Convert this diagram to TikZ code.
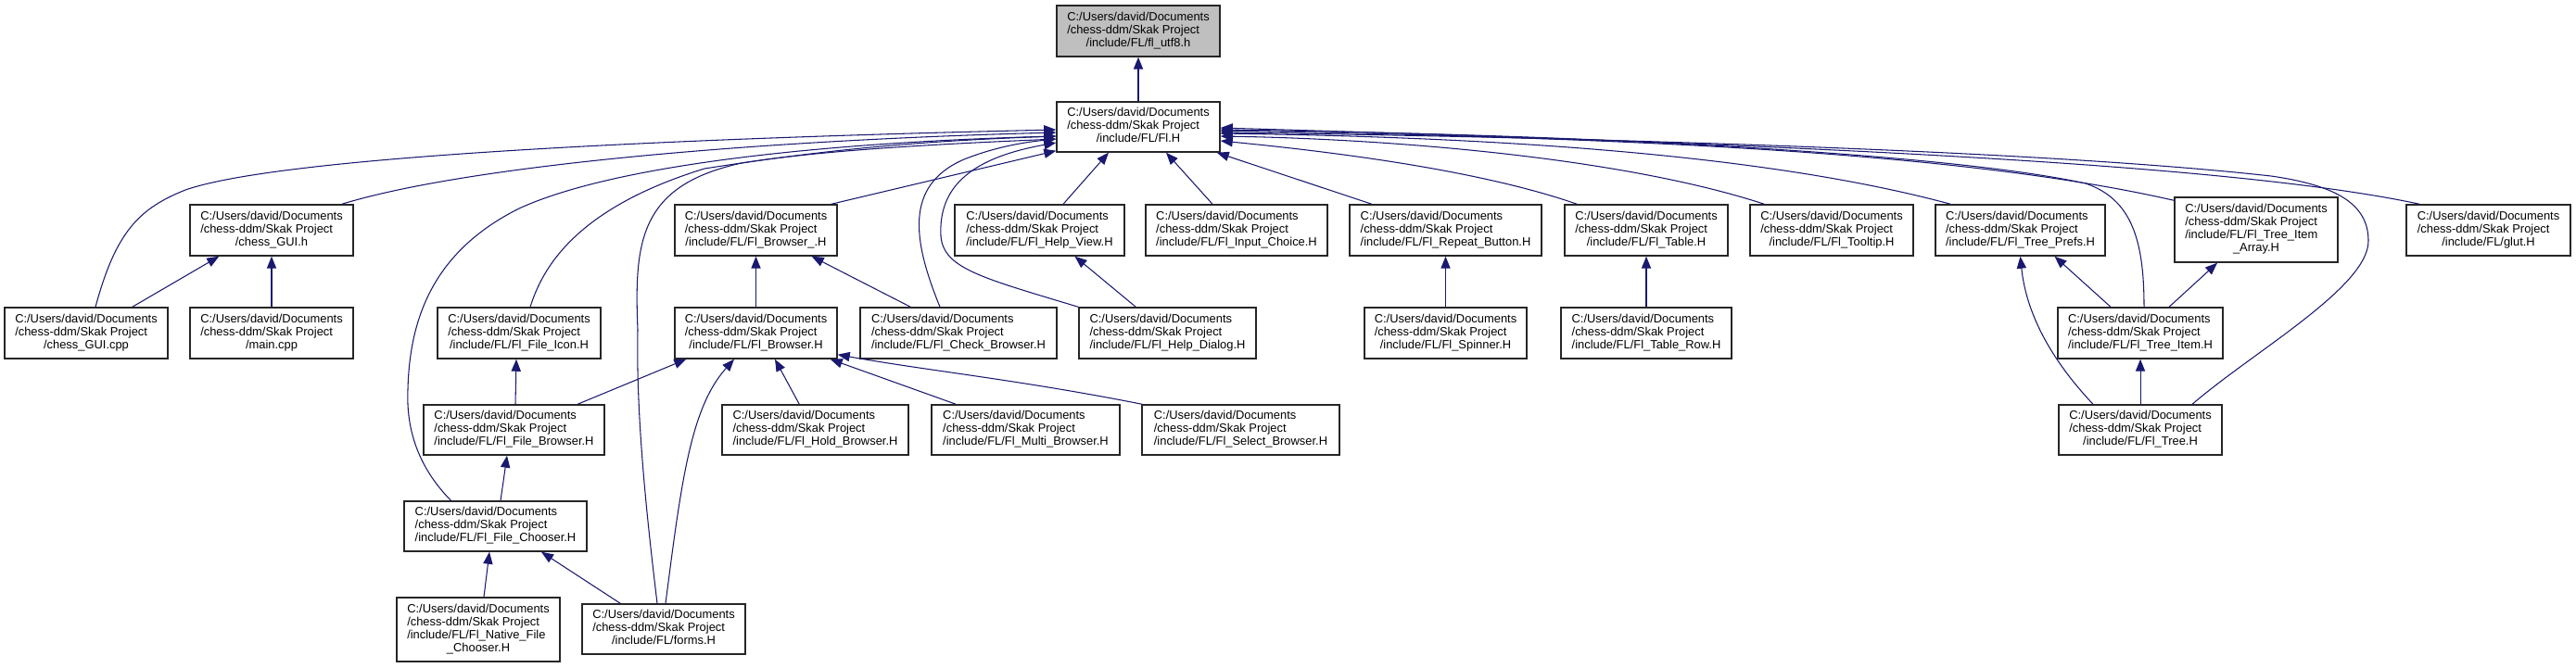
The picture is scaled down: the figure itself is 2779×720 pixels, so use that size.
\documentclass[tikz,border=0pt]{standalone}
\usepackage{fontspec}
\setmainfont{Liberation Sans}
\usetikzlibrary{arrows.meta,calc}
\definecolor{edgeblue}{HTML}{191970}
\definecolor{rootgray}{HTML}{BFBFBF}
\definecolor{boxline}{HTML}{262626}
\newcommand\dlthree[3]{\begin{tabular}{@{}l@{}}#1\\#2\\\multicolumn{1}{@{}c@{}}{#3}\end{tabular}}
\newcommand\dlfour[4]{\begin{tabular}{@{}l@{}}#1\\#2\\#3\\\multicolumn{1}{@{}c@{}}{#4}\end{tabular}}
\newcommand\dpa{C:/Users/david/Documents}
\newcommand\dpb{/chess-ddm/Skak Project}
\newcommand\dnode[7][]{\node[dbox,#1,minimum width={(#4-#3)*0.01cm},minimum height={(#6-#5)*0.01cm}] (#2) at ({(#3+#4)/2},{(#5+#6)/2}) {#7};}
\tikzset{
  dbox/.style={draw=boxline, line width=0.4pt, fill=white, inner sep=0pt, font=\fontsize{3.67pt}{3.98pt}\selectfont},
  rootbox/.style={fill=rootgray},
  edge/.style={draw=edgeblue, line width=0.3pt, -{Triangle[length=3.7pt,width=2.9pt]}}
}
\begin{document}
\begin{tikzpicture}[x=0.01cm,y=-0.01cm]
\fill[white] (0,0) rectangle (2779,720);
\useasboundingbox (0,0) rectangle (2779,720);
% row 0, 1
\dnode[rootbox]{utf8}{1140}{1316}{6}{61}{\dlthree{\dpa}{\dpb}{/include/FL/fl\_utf8.h}}
\dnode{flh}{1140}{1316}{110}{164}{\dlthree{\dpa}{\dpb}{/include/FL/Fl.H}}
% row 2
\dnode{guih}{205}{381}{221}{276}{\dlthree{\dpa}{\dpb}{/chess\_GUI.h}}
\dnode{browseru}{728}{903}{221}{276}{\dlthree{\dpa}{\dpb}{/include/FL/Fl\_Browser\_.H}}
\dnode{helpview}{1030}{1213}{221}{276}{\dlthree{\dpa}{\dpb}{/include/FL/Fl\_Help\_View.H}}
\dnode{inputchoice}{1236}{1432}{221}{276}{\dlthree{\dpa}{\dpb}{/include/FL/Fl\_Input\_Choice.H}}
\dnode{repeatb}{1456}{1663}{221}{276}{\dlthree{\dpa}{\dpb}{/include/FL/Fl\_Repeat\_Button.H}}
\dnode{table}{1688}{1864}{221}{276}{\dlthree{\dpa}{\dpb}{/include/FL/Fl\_Table.H}}
\dnode{tooltip}{1888}{2064}{221}{276}{\dlthree{\dpa}{\dpb}{/include/FL/Fl\_Tooltip.H}}
\dnode{treeprefs}{2088}{2271}{221}{276}{\dlthree{\dpa}{\dpb}{/include/FL/Fl\_Tree\_Prefs.H}}
\dnode{treeitemarray}{2346}{2522}{213}{283}{\dlfour{\dpa}{\dpb}{/include/FL/Fl\_Tree\_Item}{\_Array.H}}
\dnode{glut}{2596}{2773}{221}{276}{\dlthree{\dpa}{\dpb}{/include/FL/glut.H}}
% row 3
\dnode{guicpp}{5}{181}{332}{387}{\dlthree{\dpa}{\dpb}{/chess\_GUI.cpp}}
\dnode{maincpp}{205}{381}{332}{387}{\dlthree{\dpa}{\dpb}{/main.cpp}}
\dnode{fileicon}{472}{648}{332}{387}{\dlthree{\dpa}{\dpb}{/include/FL/Fl\_File\_Icon.H}}
\dnode{browser}{728}{903}{332}{387}{\dlthree{\dpa}{\dpb}{/include/FL/Fl\_Browser.H}}
\dnode{checkbrowser}{928}{1140}{332}{387}{\dlthree{\dpa}{\dpb}{/include/FL/Fl\_Check\_Browser.H}}
\dnode{helpdialog}{1164}{1355}{332}{387}{\dlthree{\dpa}{\dpb}{/include/FL/Fl\_Help\_Dialog.H}}
\dnode{spinner}{1472}{1647}{332}{387}{\dlthree{\dpa}{\dpb}{/include/FL/Fl\_Spinner.H}}
\dnode{tablerow}{1684}{1868}{332}{387}{\dlthree{\dpa}{\dpb}{/include/FL/Fl\_Table\_Row.H}}
\dnode{treeitem}{2220}{2398}{332}{387}{\dlthree{\dpa}{\dpb}{/include/FL/Fl\_Tree\_Item.H}}
% row 4
\dnode{filebrowser}{457}{652}{437}{491}{\dlthree{\dpa}{\dpb}{/include/FL/Fl\_File\_Browser.H}}
\dnode{hold}{779}{980}{437}{491}{\dlthree{\dpa}{\dpb}{/include/FL/Fl\_Hold\_Browser.H}}
\dnode{multi}{1005}{1208}{437}{491}{\dlthree{\dpa}{\dpb}{/include/FL/Fl\_Multi\_Browser.H}}
\dnode{select}{1232}{1445}{437}{491}{\dlthree{\dpa}{\dpb}{/include/FL/Fl\_Select\_Browser.H}}
\dnode{tree}{2221}{2397}{437}{491}{\dlthree{\dpa}{\dpb}{/include/FL/Fl\_Tree.H}}
% row 5, 6
\dnode{filechooser}{436}{633}{541}{595}{\dlthree{\dpa}{\dpb}{/include/FL/Fl\_File\_Chooser.H}}
\dnode{native}{428}{604}{645}{714}{\dlfour{\dpa}{\dpb}{/include/FL/Fl\_Native\_File}{\_Chooser.H}}
\dnode{forms}{628}{804}{652}{706}{\dlthree{\dpa}{\dpb}{/include/FL/forms.H}}
% edges into Fl.H and fl_utf8.h
\draw[edge] (flh.north) -- (utf8.south);
\draw[edge] ($(guicpp.north)+(10,0)$) .. controls (125,250) and (150,225) .. (200,205) .. controls (300,170) and (700,150) .. ($(flh.west)+(0,3)$);
\draw[edge] ($(guih.north east)+(-13,0)$) .. controls (500,180) and (800,152) .. ($(flh.west)+(0,6)$);
\draw[edge] ($(filechooser.north)+(-48,0)$) .. controls (452,505) and (438,465) .. (440,420) .. controls (442,340) and (470,270) .. (560,225) .. controls (680,170) and (950,152) .. ($(flh.west)+(0,10)$);
\draw[edge] ($(fileicon.north)+(12,0)$) .. controls (585,290) and (620,225) .. (760,182) .. controls (900,160) and (1000,152) .. ($(flh.west)+(0,10)$);
\draw[edge] ($(forms.north)+(-7,0)$) .. controls (698,560) and (686,450) .. (688,356) .. controls (684,260) and (690,200) .. (800,176) .. controls (900,160) and (1050,154) .. ($(flh.west)+(0,13)$);
\draw[edge] ($(browseru.north east)+(-7,0)$) -- ($(flh.south west)+(0,-2)$);
\draw[edge] ($(checkbrowser.north)+(-20,0)$) .. controls (985,260) and (975,200) .. (1040,172) .. controls (1070,160) and (1100,154) .. ($(flh.west)+(0,13)$);
\draw[edge] (helpdialog.north west) .. controls (1060,300) and (1018,290) .. (1015,255) .. controls (1012,200) and (1050,170) .. ($(flh.west)+(0,17)$);
\draw[edge] ($(helpview.north)+(25.5,0)$) -- ($(flh.south)+(-32,0)$);
\draw[edge] ($(inputchoice.north)+(-26,0)$) -- ($(flh.south)+(30,0)$);
\draw[edge] ($(repeatb.north)+(-79.5,0)$) -- ($(flh.south east)+(-4,0)$);
\draw[edge] ($(table.north west)+(14,0)$) .. controls (1600,185) and (1450,165) .. ($(flh.east)+(0,15)$);
\draw[edge] ($(tooltip.north west)+(16,0)$) .. controls (1750,170) and (1500,150) .. ($(flh.east)+(0,10)$);
\draw[edge] ($(treeprefs.north west)+(17,0)$) .. controls (1900,165) and (1600,148) .. ($(flh.east)+(0,7)$);
\draw[edge] ($(treeitemarray.north west)+(0,4)$) .. controls (2100,160) and (1700,148) .. ($(flh.east)+(0,4)$);
\draw[edge] ($(glut.north west)+(15,0)$) .. controls (2400,175) and (1900,155) .. ($(flh.east)+(0,1)$);
\draw[edge] ($(treeitem.north)+(4,0)$) .. controls (2313,260) and (2300,215) .. (2250,198) .. controls (2100,165) and (1700,145) .. ($(flh.east)+(0,3)$);
\draw[edge] ($(tree.north)+(56,0)$) .. controls (2430,380) and (2555,310) .. (2555,260) .. controls (2555,220) and (2520,200) .. (2450,190) .. controls (2200,162) and (1700,148) .. ($(flh.east)+(0,6)$);
% other edges
\draw[edge] ($(guicpp.north east)+(-39,0)$) -- ($(guih.south west)+(32,0)$);
\draw[edge] (maincpp.north) -- (guih.south);
\draw[edge] (browser.north) -- (browseru.south);
\draw[edge] ($(checkbrowser.north west)+(55,0)$) -- ($(browseru.south east)+(-28,0)$);
\draw[edge] ($(helpdialog.north west)+(62,0)$) -- ($(helpview.south)+(38,0)$);
\draw[edge] (spinner.north) -- (repeatb.south);
\draw[edge] (tablerow.north) -- (table.south);
\draw[edge] ($(treeitem.north)+(-32,0)$) -- ($(treeprefs.south)+(37,0)$);
\draw[edge] ($(treeitem.north)+(31,0)$) -- ($(treeitemarray.south)+(-42,0)$);
\draw[edge] ($(tree.north)+(-51,0)$) .. controls (2205,380) and (2185,330) .. (treeprefs.south);
\draw[edge] (tree.north) -- (treeitem.south);
\draw[edge] ($(filebrowser.north)+(1.5,0)$) -- ($(fileicon.south)+(-3,0)$);
\draw[edge] ($(filebrowser.north)+(68.5,0)$) -- ($(browser.south west)+(13,0)$);
\draw[edge] ($(hold.north west)+(84,0)$) -- ($(browser.south)+(20.5,0)$);
\draw[edge] ($(multi.north west)+(27,0)$) -- ($(browser.south east)+(-8,0)$);
\draw[edge] ($(select.north west)+(1,0)$) .. controls (1100,410) and (1000,400) .. ($(browser.south east)+(0,-5)$);
\draw[edge] ($(forms.north)+(2,0)$) .. controls (735,520) and (745,440) .. ($(browser.south)+(-23.5,0)$);
\draw[edge] ($(filechooser.north)+(5.5,0)$) -- ($(filebrowser.south)+(-7.5,0)$);
\draw[edge] ($(native.north)+(6,0)$) -- ($(filechooser.south)+(-6.5,0)$);
\draw[edge] ($(forms.north west)+(42,0)$) -- ($(filechooser.south)+(49.5,0)$);
\end{tikzpicture}
\end{document}
